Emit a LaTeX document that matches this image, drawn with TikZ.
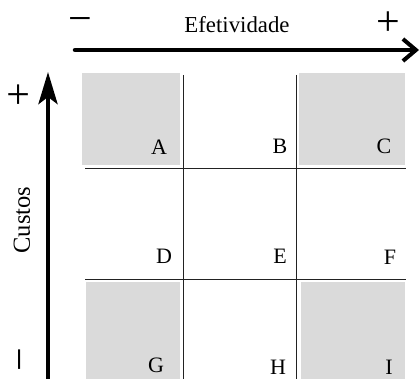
\documentclass[tikz,border=0pt]{standalone}
\usepackage{fontspec}
\setmainfont{Liberation Serif}
\usetikzlibrary{arrows.meta}
\definecolor{cellgray}{HTML}{DADADA}
\definecolor{gridline}{HTML}{222222}
\begin{document}
\begin{tikzpicture}[x=1pt,y=-1pt,
  gridrule/.style={line width=1.3pt, draw=gridline},
  axisrule/.style={line width=4.5pt, line cap=round},
  celllabel/.style={font=\fontsize{22}{22}\selectfont, inner sep=0pt},
  signlabel/.style={font=\fontsize{42}{42}\selectfont, inner sep=0pt},
  axislabel/.style={font=\fontsize{22.8}{23}\selectfont, inner sep=0pt}]
\useasboundingbox (0,0) rectangle (420,379);

% shaded corner cells
\fill[cellgray] (82,73)  rectangle (180,165);
\fill[cellgray] (299,73) rectangle (405,165);
\fill[cellgray] (86,282) rectangle (180,379);
\fill[cellgray] (301,282) rectangle (405,379);

% grid rules
\draw[gridrule] (183.3,75) -- (183.3,379);
\draw[gridrule] (296.7,75) -- (296.7,379);
\draw[gridrule] (85,168.5) -- (406,168.5);
\draw[gridrule] (85,279.5) -- (406,279.5);

% horizontal axis
\coordinate (hstart) at (75,50);
\coordinate (hend) at (419,50);
\draw[axisrule, -{Straight Barb[length=13pt,width=22pt,line width=4pt]}] (hstart) -- (hend);

% vertical axis
\coordinate (vstart) at (48,385);
\coordinate (vend) at (48,72);
\draw[line width=4.5pt, -{Stealth[length=32pt,width=19pt,inset=7pt]}] (vstart) -- (vend);

% axis captions
\node[axislabel] (eft) at (237,25) {Efetividade};
\node[signlabel] (hminus) at (80,25) {−};
\node[signlabel] (hplus) at (388,24) {+};
\node[axislabel, font=\fontsize{24.5}{25}\selectfont, rotate=90] (cst) at (22,220) {Custos};
\node[signlabel, rotate=90] (vplus) at (21,95) {+};
\node[signlabel, rotate=90] (vminus) at (26,360) {−};

% cell letters
\node[celllabel] (A) at (159,147) {A};
\node[celllabel] (B) at (280,146) {B};
\node[celllabel] (C) at (384,146) {C};
\node[celllabel] (D) at (164,256) {D};
\node[celllabel] (E) at (280,256) {E};
\node[celllabel] (F) at (390,257) {F};
\node[celllabel] (G) at (156,365) {G};
\node[celllabel] (H) at (278,367.5) {H};
\node[celllabel] (I) at (389,367) {I};
\end{tikzpicture}
\end{document}
